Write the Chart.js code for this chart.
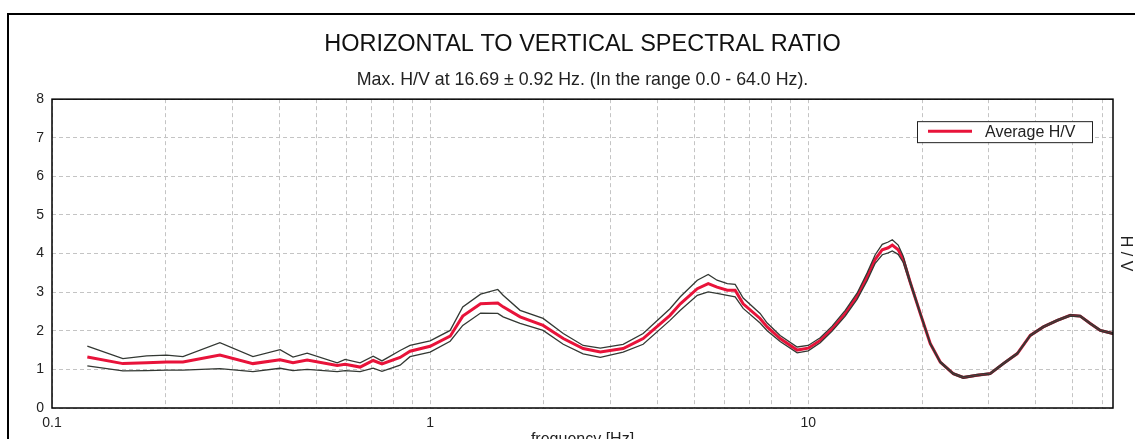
<!DOCTYPE html>
<html>
<head>
<meta charset="utf-8">
<title>H/V spectral ratio</title>
<script src="https://cdn.jsdelivr.net/npm/chart.js@4.4.1/dist/chart.umd.min.js"></script>
<style>
    html, body { margin: 0; padding: 0; background: #fff; overflow: hidden; }
</style>
</head>
<body>
<canvas id="hv-chart" width="1135" height="455"></canvas>
<script>
// Datos (frecuencia en Hz, cociente H/V)
var freqHz = [0.124, 0.154, 0.178, 0.201, 0.222, 0.278, 0.340, 0.401, 0.434, 0.473,
    0.568, 0.596, 0.653, 0.707, 0.746, 0.833, 0.885, 1.00, 1.13, 1.22,
    1.36, 1.51, 1.56, 1.73, 1.99, 2.25, 2.54, 2.82, 3.24, 3.66,
    4.31, 4.59, 5.09, 5.44, 5.74, 6.11, 6.41, 6.73, 7.46, 7.79,
    8.43, 9.35, 10.0, 10.76, 11.57, 12.53, 13.48, 14.32, 15.04, 15.70,
    16.28, 16.69, 17.30, 17.84, 18.62, 19.79, 21.03, 22.35, 24.19, 25.71,
    28.00, 30.30, 32.81, 35.73, 38.67, 41.86, 45.58, 49.33, 52.44, 55.72,
    59.22, 64.0];

var hvAverage = [1.32, 1.15, 1.17, 1.19, 1.19, 1.37, 1.15, 1.25, 1.17, 1.24,
    1.10, 1.13, 1.06, 1.23, 1.14, 1.31, 1.47, 1.60, 1.86, 2.38,
    2.70, 2.72, 2.62, 2.36, 2.14, 1.80, 1.54, 1.45, 1.54, 1.80,
    2.40, 2.70, 3.09, 3.22, 3.13, 3.05, 3.05, 2.70, 2.32, 2.10,
    1.80, 1.50, 1.55, 1.75, 2.05, 2.45, 2.90, 3.40, 3.85, 4.10,
    4.15, 4.22, 4.10, 3.85, 3.25, 2.45, 1.67, 1.19, 0.89, 0.79,
    0.85, 0.89, 1.15, 1.41, 1.88, 2.10, 2.27, 2.40, 2.38, 2.19,
    2.01, 1.93];

var hvUpper = [1.60, 1.28, 1.35, 1.37, 1.33, 1.69, 1.33, 1.51, 1.32, 1.42,
    1.17, 1.26, 1.17, 1.34, 1.22, 1.49, 1.62, 1.74, 2.01, 2.62,
    2.95, 3.07, 2.92, 2.53, 2.32, 1.93, 1.62, 1.55, 1.65, 1.93,
    2.57, 2.88, 3.31, 3.46, 3.31, 3.22, 3.20, 2.85, 2.45, 2.20,
    1.88, 1.58, 1.62, 1.82, 2.12, 2.53, 2.98, 3.50, 3.97, 4.24,
    4.30, 4.36, 4.22, 3.93, 3.29, 2.48, 1.69, 1.21, 0.91, 0.81,
    0.87, 0.91, 1.17, 1.43, 1.90, 2.12, 2.29, 2.42, 2.40, 2.21,
    2.03, 1.95];

var hvLower = [1.09, 0.96, 0.97, 0.98, 0.98, 1.02, 0.94, 1.03, 0.97, 1.00,
    0.94, 0.97, 0.94, 1.03, 0.95, 1.11, 1.33, 1.45, 1.73, 2.14,
    2.46, 2.45, 2.36, 2.19, 2.01, 1.65, 1.40, 1.31, 1.45, 1.65,
    2.27, 2.53, 2.92, 3.01, 2.97, 2.92, 2.88, 2.58, 2.20, 2.00,
    1.72, 1.43, 1.48, 1.69, 1.99, 2.38, 2.82, 3.30, 3.75, 3.97,
    4.02, 4.07, 3.98, 3.77, 3.21, 2.42, 1.65, 1.17, 0.87, 0.77,
    0.83, 0.87, 1.13, 1.39, 1.86, 2.08, 2.25, 2.38, 2.36, 2.17,
    1.99, 1.91];

// Lineas de la rejilla y etiquetas del eje de frecuencias
var gridFreqs = [0.1, 0.2, 0.3, 0.4, 0.5, 0.6, 0.7, 0.8, 0.9,
    1, 2, 3, 4, 5, 6, 7, 8, 9,
    10, 20, 30, 40, 50, 60];
var freqTickLabels = ['0.1', '1', '10'];

var chartTitle = 'HORIZONTAL TO VERTICAL SPECTRAL RATIO';
var chartSubtitle = 'Max. H/V at 16.69 \u00b1 0.92 Hz. (In the range 0.0 - 64.0 Hz).';

Chart.defaults.font.family = "'Liberation Sans', Arial, sans-serif";
Chart.defaults.color = '#222';

function toPoints(values) {
    return freqHz.map(function(f, i) {
        return { x: f, y: values[i] };
    });
}

/**
 * Marco exterior, borde del area de trazado y leyenda con recuadro
 */
var framePlugin = {
    id: 'hvFrame',
    beforeDraw: function(chart) {
        var ctx = chart.ctx;
        ctx.save();
        ctx.strokeStyle = '#000';
        ctx.lineWidth = 2;
        ctx.strokeRect(8, 14, 1400, 800);
        ctx.restore();
    },
    afterDatasetsDraw: function(chart) {
        var ctx = chart.ctx;
        var area = chart.chartArea;
        ctx.save();
        ctx.strokeStyle = '#000';
        ctx.lineWidth = 1.5;
        ctx.strokeRect(area.left, area.top, area.right - area.left, area.bottom - area.top);

        // Leyenda
        var ds = chart.data.datasets[2];
        var bx = area.right - 196;
        var by = area.top + 22;
        ctx.fillStyle = '#fff';
        ctx.fillRect(bx, by, 175, 21);
        ctx.lineWidth = 1;
        ctx.strokeStyle = '#222';
        ctx.strokeRect(bx + 0.5, by + 0.5, 175, 21);
        ctx.strokeStyle = ds.borderColor;
        ctx.lineWidth = 3;
        ctx.beginPath();
        ctx.moveTo(bx + 11, by + 10);
        ctx.lineTo(bx + 55, by + 10);
        ctx.stroke();
        ctx.fillStyle = '#222';
        ctx.font = "16px 'Liberation Sans', Arial, sans-serif";
        ctx.textBaseline = 'middle';
        ctx.fillText(ds.label, bx + 68, by + 11);
        ctx.restore();
    }
};

var ctx = document.getElementById('hv-chart');
var hvChart = new Chart(ctx, {
    type: 'line',
    data: {
        datasets: [{
            label: 'Upper',
            data: toPoints(hvUpper),
            borderColor: '#333833',
            borderWidth: 1.3,
            pointRadius: 0,
            tension: 0
        }, {
            label: 'Lower',
            data: toPoints(hvLower),
            borderColor: '#333833',
            borderWidth: 1.3,
            pointRadius: 0,
            tension: 0
        }, {
            label: 'Average H/V',
            data: toPoints(hvAverage),
            borderColor: '#e8133a',
            borderWidth: 3,
            pointRadius: 0,
            tension: 0
        }]
    },
    options: {
        responsive: false,
        animation: false,
        layout: { padding: 0 },
        plugins: {
            legend: { display: false },
            tooltip: { enabled: false },
            title: {
                display: true,
                fullSize: false,
                text: chartTitle,
                color: '#111',
                font: { size: 23.5, weight: 'normal' },
                padding: { top: 30.4, bottom: 4 }
            },
            subtitle: {
                display: true,
                fullSize: false,
                text: chartSubtitle,
                color: '#222',
                font: { size: 17.8 },
                padding: { top: 6.7, bottom: 8.5 }
            }
        },
        scales: {
            x: {
                type: 'logarithmic',
                min: 0.1,
                max: 64,
                afterFit: function(scale) { scale.height = 47; },
                afterBuildTicks: function(scale) {
                    scale.ticks = gridFreqs.map(function(v) { return { value: v }; });
                },
                ticks: {
                    autoSkip: false,
                    maxRotation: 0,
                    padding: 7,
                    color: '#222',
                    font: { size: 14 },
                    callback: function(value) {
                        var s = String(value);
                        return freqTickLabels.indexOf(s) >= 0 ? s : '';
                    }
                },
                grid: { color: '#c4c4c4', lineWidth: 1, drawTicks: false },
                border: { display: false, dash: [4, 3] },
                title: {
                    display: true,
                    text: 'frequency [Hz]',
                    color: '#222',
                    font: { size: 16 },
                    padding: { top: 0, bottom: 6 }
                }
            },
            y: {
                min: 0,
                max: 8,
                afterFit: function(scale) { scale.width = 52; },
                ticks: {
                    stepSize: 1,
                    padding: 8,
                    color: '#222',
                    font: { size: 14 }
                },
                grid: { color: '#c4c4c4', lineWidth: 1, drawTicks: false },
                border: { display: false, dash: [4, 3] }
            },
            y2: {
                position: 'right',
                min: 0,
                max: 8,
                afterFit: function(scale) { scale.width = 22; },
                ticks: { display: false },
                grid: { display: false, drawTicks: false },
                border: { display: false },
                title: {
                    display: true,
                    text: 'H / V',
                    color: '#222',
                    font: { size: 16 },
                    padding: { top: 0, bottom: 0 }
                }
            }
        }
    },
    plugins: [framePlugin]
});
</script>
</body>
</html>
